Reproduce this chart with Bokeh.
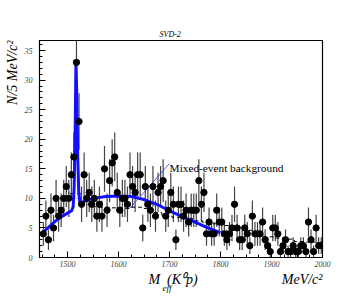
from bokeh.plotting import figure
from bokeh.models import Range1d, Label, FixedTicker, Title
from bokeh.embed import file_html
from bokeh.resources import INLINE
import math

# ---------------- data ----------------
bin_start = 1450.0
bin_width = 5.0
counts = [4, 7, 3, 8, 5, 10, 7, 8, 10, 12,
          10, 14, 17, 33, 23, 9, 14, 10, 11, 9,
          10, 7, 9, 7, 15, 8, 13, 16, 17, 11,
          8, 10, 10, 9, 14, 12, 11, 14, 14, 5,
          12, 9, 8, 12, 7, 11, 12, 13, 7, 8,
          11, 9, 3, 9, 9, 7, 8, 6, 8, 8,
          8, 13, 9, 11, 4, 6, 4, 4, 8, 6,
          6, 4, 3, 4, 5, 9, 5, 3, 3, 5,
          4, 2, 7, 4, 4, 4, 6, 3, 2, 1,
          5, 5, 4, 1, 2, 3, 1, 1, 2, 1,
          1, 2, 2, 1, 6, 3, 1, 5, 2, 2]
mass = [bin_start + bin_width * (i + 0.5) for i in range(len(counts))]

fit_mass = [1447, 1460, 1470, 1480, 1490, 1500, 1508, 1511, 1513, 1515, 1516.5,
            1518, 1520, 1522, 1524, 1527, 1535, 1550, 1575, 1600, 1625, 1650,
            1675, 1700, 1725, 1750, 1775, 1800]
fit_vals = [3.8, 4.9, 5.7, 6.4, 7.0, 7.5, 7.9, 8.6, 12.0, 22.0, 33.0,
            28.0, 17.0, 11.0, 9.4, 9.2, 9.6, 10.0, 10.3, 10.4, 10.3, 9.8,
            9.0, 7.9, 6.9, 6.0, 5.0, 4.2]

dot_mass = [1497, 1512, 1526]
dot_vals = [11.2, 10.5, 9.3]

mix_edges = [1505, 1525, 1545, 1565, 1585, 1605, 1625, 1645, 1665, 1685, 1705,
             1725, 1745, 1765, 1785, 1805, 1825, 1845, 1865, 1885, 1905, 1925,
             1945, 1965, 1985, 2000]
mix_vals = [10.8, 9.0, 8.6, 8.5, 8.4, 8.3, 8.5, 8.3, 7.6, 7.0, 6.8, 6.6, 6.2,
            5.9, 5.7, 5.4, 5.1, 4.6, 4.0, 3.5, 3.3, 3.1, 2.7, 2.6, 2.6]

pointer_mass = [1623, 1700]
pointer_vals = [8.4, 15.9]

x_ticks = [1500, 1600, 1700, 1800, 1900, 2000]
y_ticks = [0, 5, 10, 15, 20, 25, 30, 35]

# ---------------- layout ----------------
X0, X1 = 1445.0, 2000.0
Y0, Y1 = 0.0, 36.7
W, H = 352, 297
FL, FR, FT, FB = 37, 322, 40, 257   # frame edges in page pixels
NB = "\u00a0"


def dx(px):
    return X0 + (px - FL) * (X1 - X0) / (FR - FL)


def dy(py):
    return Y0 + (FB - py) * (Y1 - Y0) / (FB - FT)


p = figure(width=W, height=H, output_backend="svg", toolbar_location=None,
           x_range=Range1d(X0, X1), y_range=Range1d(Y0, Y1),
           min_border_left=FL, min_border_right=W - FR,
           min_border_top=FT, min_border_bottom=H - FB)
p.xgrid.visible = False
p.ygrid.visible = False
p.background_fill_color = "white"
p.border_fill_color = "white"
p.outline_line_color = "black"
p.outline_line_width = 1.2

for ax in (p.xaxis[0], p.yaxis[0]):
    ax.major_tick_in = 6
    ax.major_tick_out = 0
    ax.minor_tick_in = 3
    ax.minor_tick_out = 0
    ax.axis_line_color = "black"
    ax.major_tick_line_color = "black"
    ax.minor_tick_line_color = "black"
    ax.major_label_text_font = "Liberation Serif"
    ax.major_label_text_font_style = "italic"
    ax.major_label_text_font_size = "8px"
    ax.major_label_text_color = "#444444"

p.xaxis.ticker = FixedTicker(ticks=x_ticks,
                             minor_ticks=[1450 + 25 * i for i in range(23)])
p.yaxis.ticker = FixedTicker(ticks=y_ticks, minor_ticks=list(range(0, 37)))
p.xaxis.major_label_standoff = 3
p.yaxis.major_label_standoff = 7

# error bars
lo = [c - math.sqrt(c) for c in counts]
hi = [c + math.sqrt(c) for c in counts]
p.segment(x0=mass, y0=lo, x1=mass, y1=hi, line_color="#444444", line_width=1.2)

# mixed-event background (dashed histogram)
p.step(x=mix_edges, y=mix_vals + [mix_vals[-1]], mode="after",
       line_color="black", line_width=1, line_dash="4 3")

# dotted background under peak
p.line(dot_mass, dot_vals, line_color="black", line_width=1, line_dash="1 2")

# fit
p.line(fit_mass, fit_vals, line_color="#1010ff", line_width=3)

# pointer line
p.line(pointer_mass, pointer_vals, line_color="#3030ff", line_width=0.8)

# data points
p.scatter(mass, counts, size=6.3, color="black")

# ---------------- texts ----------------
p.add_layout(Label(x=dx(168), y=dy(167.5), text="Mixed-event background",
                   text_font="Liberation Serif", text_font_size="11.3px",
                   text_align="left", text_baseline="alphabetic",
                   text_color="black"))

# title
p.title.text = "SVD-2"
p.title.align = "left"
p.title.offset = 120
p.title.standoff = 3
p.title.text_font = "Liberation Serif"
p.title.text_font_style = "italic"
p.title.text_font_size = "8px"
p.title.text_color = "black"

# y-axis title
p.add_layout(Title(text="N/5 MeV/c\u00b2", align="right", standoff=4,
                   text_font="Liberation Serif", text_font_style="italic",
                   text_font_size="14px", text_color="black"), "left")

# x-axis title row (main)
p.add_layout(Title(text="M" + NB * 2 + "(K\u2070p)" + NB * 24 + "MeV/c\u00b2",
                   align="right", offset=0, standoff=0,
                   text_font="Liberation Serif", text_font_style="italic",
                   text_font_size="14px", text_color="black"), "below")
# subscript row
p.add_layout(Title(text="eff", align="left", offset=123, standoff=-12,
                   text_font="Liberation Serif", text_font_style="italic",
                   text_font_size="9px", text_color="black"), "below")

open("out.html", "w").write(file_html(p, INLINE))
